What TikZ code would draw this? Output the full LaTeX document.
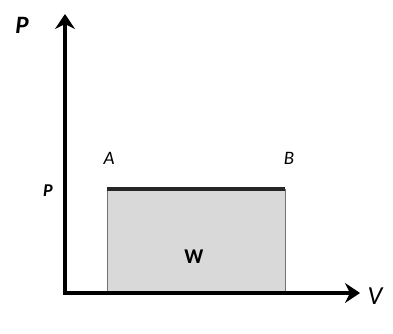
\documentclass[tikz,border=0pt]{standalone}
\usepackage{fontspec}
\setmainfont{Carlito}
\usetikzlibrary{arrows.meta}
\begin{document}
\begin{tikzpicture}[x=1pt,y=-1pt,
  axis/.style={line width=3.6pt,-{Stealth[length=15pt,width=20pt,inset=5pt]}},
  lab/.style={font=\fontsize{25}{25}\selectfont\bfseries\itshape, inner sep=0pt},
  smlab/.style={font=\fontsize{19}{19}\selectfont\itshape, inner sep=0pt},
  region/.style={fill=black!15, draw=black!55, line width=0.7pt},
  isobar/.style={line width=3.6pt, draw=black!85}]
\useasboundingbox (0,0) rectangle (393,334);
\coordinate (O) at (65,293);
\coordinate (Ptop) at (65,14);
\coordinate (Vend) at (360,293);
\coordinate (A) at (107,189);
\coordinate (B) at (285,189);
\coordinate (Abot) at (107,293);
\coordinate (Bbot) at (285,293);
\path[region] (Abot) -- (A) -- (B) -- (Bbot) -- cycle;
\draw[isobar] (A) -- (B);
\draw[axis] ([yshift=1.8pt]O) -- (Ptop);
\draw[axis] ([xshift=-1.8pt]O) -- (Vend);
\node[lab] (lP) at (22,25) {P};
\node[font=\fontsize{26}{26}\selectfont\itshape, inner sep=0pt] (lV) at (375,296) {V};
\node[smlab] (lA) at (109,158) {A};
\node[smlab] (lB) at (289,158) {B};
\node[font=\fontsize{18}{18}\selectfont\bfseries\itshape, inner sep=0pt] (lp) at (48,191) {P};
\node[font=\fontsize{21}{21}\selectfont\bfseries, inner sep=0pt] (lW) at (194,257) {W};
\end{tikzpicture}
\end{document}
